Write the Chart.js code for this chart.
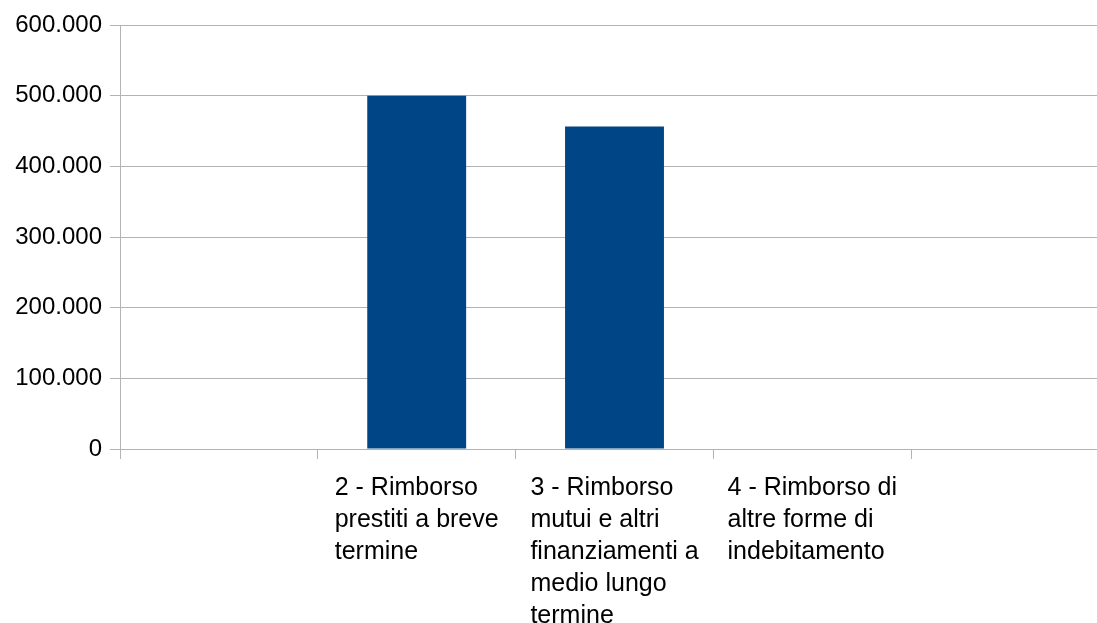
<!DOCTYPE html>
<html>
<head>
<meta charset="utf-8">
<script src="https://cdn.jsdelivr.net/npm/chart.js@4.4.0/dist/chart.umd.min.js"></script>
<style>
    html, body { margin: 0; padding: 0; background: #fff; overflow: hidden; }
    #wrap { width: 1109px; height: 623px; position: relative; }
</style>
</head>
<body>
<div id="wrap"><canvas id="chart"></canvas></div>
<script>
// ============= Data =============
const categoryLines = [
    [],
    ['2 - Rimborso', 'prestiti a breve', 'termine'],
    ['3 - Rimborso', 'mutui e altri', 'finanziamenti a', 'medio lungo', 'termine'],
    ['4 - Rimborso di', 'altre forme di', 'indebitamento'],
    []
];
const seriesValues = [null, 500000, 456500, null, null];
const yMin = 0;
const yMax = 600000;
const yStep = 100000;

const FONT = '"Liberation Sans", Arial, sans-serif';
const GRID = '#b3b3b3';

// Italian thousands separator: 600000 -> 600.000
function formatIt(v) {
    return String(v).replace(/\B(?=(\d{3})+(?!\d))/g, '.');
}

// Category labels: block centred on the category, lines left-aligned
const wrappedLabels = {
    id: 'wrappedLabels',
    afterDraw(chart) {
        const xs = chart.scales.x;
        const ctx = chart.ctx;
        ctx.save();
        ctx.font = '25px ' + FONT;
        ctx.fillStyle = '#000';
        ctx.textAlign = 'left';
        ctx.textBaseline = 'alphabetic';
        categoryLines.forEach((lines, i) => {
            if (!lines.length) return;
            const cx = xs.getPixelForTick(i);
            const w = Math.max(...lines.map(l => ctx.measureText(l).width));
            lines.forEach((l, j) => ctx.fillText(l, cx - w / 2, xs.top + 46 + j * 32));
        });
        ctx.restore();
    }
};

new Chart(document.getElementById('chart'), {
    type: 'bar',
    data: {
        labels: categoryLines.map(l => l.join(' ')),
        datasets: [{
            data: seriesValues,
            backgroundColor: '#004586',
            borderWidth: 0,
            categoryPercentage: 1,
            barPercentage: 0.5
        }]
    },
    options: {
        responsive: true,
        maintainAspectRatio: false,
        animation: false,
        layout: { padding: { top: 25, right: 0, left: 0, bottom: 0 } },
        plugins: { legend: { display: false }, tooltip: { enabled: false } },
        scales: {
            x: {
                offset: true,
                grid: { offset: true, drawOnChartArea: false, drawTicks: true, tickLength: 10, color: GRID },
                border: { color: GRID },
                ticks: { display: false },
                afterFit(scale) { scale.height = 174; }
            },
            y: {
                min: yMin,
                max: yMax,
                grid: { color: GRID, tickLength: 10 },
                border: { color: GRID },
                ticks: {
                    stepSize: yStep,
                    color: '#000',
                    padding: 8,
                    font: { family: FONT, size: 24 },
                    callback: v => formatIt(v)
                },
                afterFit(scale) { scale.width = 120; }
            }
        }
    },
    plugins: [wrappedLabels]
});
</script>
</body>
</html>
